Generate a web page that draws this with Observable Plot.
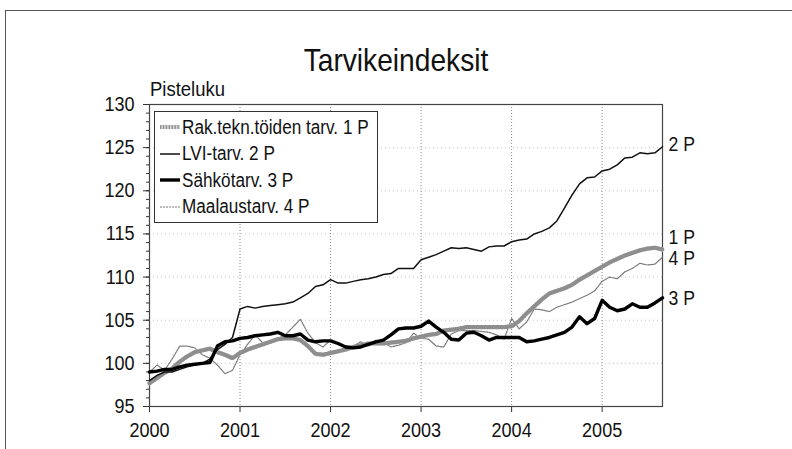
<!DOCTYPE html>
<html>
<head>
<meta charset="utf-8">
<script src="https://cdn.jsdelivr.net/npm/d3@7"></script>
<script src="https://cdn.jsdelivr.net/npm/@observablehq/plot@0.6"></script>
<style>
  body { margin: 0; background: #fff; }
  #wrap { position: relative; width: 792px; height: 449px; overflow: hidden; background: #fff;
          font-family: "Liberation Sans", Arial, sans-serif; color: #111; }
  #border { position: absolute; left: 5px; top: 10px; width: 820px; height: 480px; border: 1.5px solid #555; box-sizing: border-box; }
  #title { position: absolute; left: 0; width: 792px; text-align: center; top: 44px; font-size: 32px; line-height: 1;
           transform: scaleX(0.88); transform-origin: 396px 0; }
  #ylab { position: absolute; left: 150px; top: 78px; font-size: 21px; line-height: 1;
          transform: scaleX(0.88); transform-origin: 0 0; }
  #chart { position: absolute; left: 0; top: 90px; }
  #legend { position: absolute; left: 154px; top: 111px; width: 224px; height: 112px; border: 1.5px solid #333;
            box-sizing: border-box; background: #fff; }
  .row { position: absolute; left: 0; height: 22px; display: flex; align-items: center; font-size: 19.5px; white-space: nowrap; }
  .row svg { margin-left: 5px; margin-right: 2px; flex: none; }
  .row span { display: inline-block; transform: scaleX(0.88); transform-origin: 0 50%; }
</style>
</head>
<body>
<div id="wrap">
  <div id="border"></div>
  <div id="title"></div>
  <div id="ylab"></div>
  <div id="chart"></div>
  <div id="legend"></div>
</div>
<script>
// ---- data (monthly, Jan 2000 – Sep 2005) ----
const titleText = "Tarvikeindeksit";
const yLabelText = "Pisteluku";
const startYear = 2000;
const xTicks = [2000, 2001, 2002, 2003, 2004, 2005];
const yTicks = [95, 100, 105, 110, 115, 120, 125, 130];
const seriesNames = ["Rak.tekn.töiden tarv. 1 P", "LVI-tarv. 2 P", "Sähkötarv. 3 P", "Maalaustarv. 4 P"];
const endLabels = ["1 P", "2 P", "3 P", "4 P"];

const rakTekn = [
  97.7, 98.3, 98.9, 99.4, 100.2, 100.8, 101.3, 101.5, 101.7, 101.3, 101.0, 100.6,
  101.2, 101.6, 101.9, 102.2, 102.5, 102.8, 102.9, 102.9, 102.7, 102.0, 101.1, 101.0,
  101.2, 101.4, 101.6, 101.9, 102.1, 102.3, 102.3, 102.3, 102.4, 102.5, 102.6, 102.9,
  103.1, 103.3, 103.4, 103.8, 103.9, 104.0, 104.2, 104.2, 104.2, 104.2, 104.2, 104.2,
  104.3, 104.9, 105.8, 106.6, 107.4, 108.1, 108.4, 108.7, 109.1, 109.7, 110.2, 110.7,
  111.2, 111.7, 112.1, 112.5, 112.8, 113.1, 113.3, 113.4, 113.2
];
const lvi = [
  98.0, 98.6, 99.0, 99.0, 99.3, 99.6, 99.8, 100.0, 100.5, 101.6, 102.2, 103.0,
  106.3, 106.6, 106.4, 106.6, 106.7, 106.8, 106.9, 107.1, 107.6, 108.1, 108.9, 109.1,
  109.7, 109.3, 109.3, 109.5, 109.7, 109.8, 110.0, 110.3, 110.4, 111.0, 111.0, 111.0,
  112.0, 112.3, 112.6, 113.0, 113.4, 113.3, 113.4, 113.2, 113.0, 113.5, 113.6, 113.6,
  114.1, 114.3, 114.4, 115.0, 115.3, 115.7, 116.5, 118.0, 119.5, 120.8, 121.5, 121.6,
  122.3, 122.5, 123.0, 123.8, 123.9, 124.4, 124.3, 124.4, 125.1
];
const sahko = [
  99.0, 99.1, 99.3, 99.3, 99.6, 99.8, 99.9, 100.0, 100.1, 102.0, 102.5, 102.6,
  102.9, 103.0, 103.2, 103.3, 103.4, 103.6, 103.2, 103.2, 103.4, 102.7, 102.5, 102.6,
  102.6, 102.3, 101.9, 101.8, 101.9, 102.2, 102.5, 102.7, 103.3, 104.0, 104.1, 104.1,
  104.3, 104.9, 104.2, 103.6, 102.8, 102.7, 103.5, 103.6, 103.2, 102.7, 103.0, 103.0,
  103.0, 103.0, 102.5, 102.6, 102.8, 103.0, 103.3, 103.6, 104.2, 105.4, 104.6, 105.2,
  107.3, 106.5, 106.1, 106.3, 106.9, 106.5, 106.5, 107.0, 107.6
];
const maalaus = [
  99.0, 99.8, 99.2, 100.5, 102.0, 102.0, 101.8, 101.0, 100.6, 99.8, 98.8, 99.2,
  101.0, 102.2, 103.3, 102.4, 102.5, 102.9, 103.3, 104.2, 105.1, 103.5, 102.4, 101.9,
  102.7, 102.2, 102.0, 102.0, 102.5, 102.0, 102.7, 102.5, 101.9, 102.1, 102.4, 103.5,
  102.9, 102.8, 102.0, 101.9, 103.4, 103.8, 103.8, 103.8, 103.7, 103.6, 103.3, 102.8,
  105.2, 104.0, 104.8, 106.3, 106.2, 106.0, 106.5, 106.8, 107.1, 107.5, 107.9, 108.4,
  109.5, 110.0, 109.8, 110.6, 111.0, 111.6, 111.4, 111.5, 112.3
];

// ---- build ----
const toRows = (vals) => vals.map((v, i) => ({x: startYear + i / 12, v}));
const s1 = toRows(rakTekn), s2 = toRows(lvi), s3 = toRows(sahko), s4 = toRows(maalaus);
const minorY = d3.range(95, 131, 1);
const font = '"Liberation Sans", Arial, sans-serif';
const NARROW = 0.88;

document.getElementById("title").textContent = titleText;
document.getElementById("ylab").textContent = yLabelText;

const lastX = startYear + (lvi.length - 1) / 12;
const hatchBase = {stroke: "#d6d6d6", w: 4.2};
const hatchTop = {stroke: "#8e8e8e", w: 4.2, dash: "1.3,1.6"};

const chart = Plot.plot({
  width: 792,
  height: 359,
  marginTop: 14,
  marginBottom: 43,
  marginLeft: 149,
  marginRight: 130,
  style: {fontFamily: font, fontSize: "20px", color: "#111", background: "transparent", overflow: "visible"},
  x: {domain: [startYear, lastX], label: null},
  y: {domain: [95, 130], label: null},
  marks: [
    Plot.gridY(yTicks, {stroke: "#c4c4c4", strokeDasharray: "1,3", strokeOpacity: 1}),
    Plot.gridX(xTicks.slice(1), {stroke: "#8a8a8a", strokeDasharray: "1,2", strokeOpacity: 1}),
    Plot.axisY(minorY, {tickSize: 3, tickFormat: () => "", stroke: "#333"}),
    Plot.axisY(yTicks, {tickSize: 6, tickPadding: 9, tickFormat: d => String(d), stroke: "#333", fontSize: 20.5}),
    Plot.axisX(xTicks, {tickSize: 6, tickPadding: 10, tickFormat: d => String(d), stroke: "#333", fontSize: 20.5}),
    Plot.frame({stroke: "#444", strokeWidth: 1.2}),
    // 4 P thin dotted grey
    Plot.line(s4, {x: "x", y: "v", stroke: "#7a7a7a", strokeWidth: 1.2, strokeDasharray: "2,1"}),
    // 1 P hatched grey thick
    Plot.line(s1, {x: "x", y: "v", stroke: hatchBase.stroke, strokeWidth: hatchBase.w}),
    Plot.line(s1, {x: "x", y: "v", stroke: hatchTop.stroke, strokeWidth: hatchTop.w, strokeDasharray: hatchTop.dash}),
    // 2 P thin black
    Plot.line(s2, {x: "x", y: "v", stroke: "#111", strokeWidth: 1.5}),
    // 3 P thick black
    Plot.line(s3, {x: "x", y: "v", stroke: "#000", strokeWidth: 3.4}),
    // end labels
    Plot.text(s1, Plot.selectLast({x: "x", y: "v", text: () => endLabels[0], textAnchor: "start", dx: 6, dy: -12, fontSize: 20})),
    Plot.text(s2, Plot.selectLast({x: "x", y: "v", text: () => endLabels[1], textAnchor: "start", dx: 6, dy: -2, fontSize: 20})),
    Plot.text(s3, Plot.selectLast({x: "x", y: "v", text: () => endLabels[2], textAnchor: "start", dx: 6, dy: 1, fontSize: 20})),
    Plot.text(s4, Plot.selectLast({x: "x", y: "v", text: () => endLabels[3], textAnchor: "start", dx: 6, dy: 1, fontSize: 20}))
  ]
});
// narrow (Arial Narrow–like) text: horizontal scale around each text's anchor
chart.querySelectorAll("text").forEach(t => {
  const x = +t.getAttribute("x") || 0, y = +t.getAttribute("y") || 0;
  const tr = t.getAttribute("transform") || "";
  t.setAttribute("transform", `${tr} translate(${x},${y}) scale(${NARROW},1) translate(${-x},${-y})`);
});
document.getElementById("chart").appendChild(chart);

// legend
const swatches = [
  [hatchBase, hatchTop],
  [{stroke: "#111", w: 1.5}],
  [{stroke: "#000", w: 3.4}],
  [{stroke: "#7a7a7a", w: 1.2, dash: "2,1"}]
];
const legend = document.getElementById("legend");
seriesNames.forEach((name, k) => {
  const row = document.createElement("div");
  row.className = "row";
  row.style.top = (4 + k * 26.5) + "px";
  const lines = swatches[k].map(s =>
    `<line x1="0" x2="20" y1="5" y2="5" stroke="${s.stroke}" stroke-width="${s.w}" ${s.dash ? `stroke-dasharray="${s.dash}"` : ""}/>`
  ).join("");
  row.innerHTML = `<svg width="20" height="10">${lines}</svg><span>${name}</span>`;
  legend.appendChild(row);
});
</script>
</body>
</html>
